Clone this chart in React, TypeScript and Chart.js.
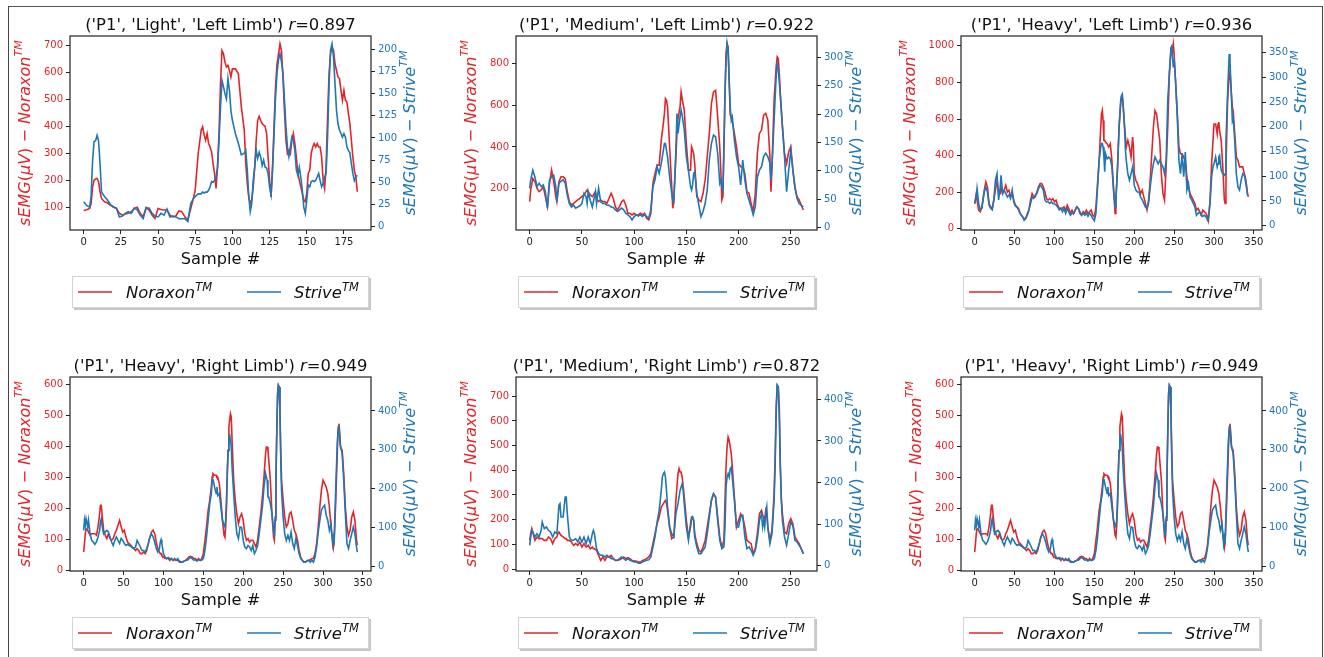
import React, { useEffect, useRef } from 'react';
import { Chart, registerables } from 'chart.js';

Chart.register(...registerables);

const RED = '#e0262b';
const BLUE = '#1f77b4';
const FONT = "'DejaVu Sans', 'Liberation Sans', sans-serif";

// ---------- Panel 1: ('P1', 'Light', 'Left Limb') ----------
const lightLeftSample = [0,2,4,5,6,7,8,9,10,11,12,14,16,18,20,22,24,26,28,30,32,34,36,38,40,42,44,46,48,50,52,54,56,58,60,62,64,66,68,70,72,74,75,77,79,80,81,82,83,84,85,86,87,88,89,90,91,92,93,94,95,96,97,98,99,100,102,104,106,108,109,110,111,112,113,114,115,116,117,118,119,120,121,122,123,124,125,126,127,128,129,130,131,132,133,134,135,136,137,138,139,140,141,142,143,144,145,146,147,148,149,150,151,152,153,154,155,156,157,158,159,160,161,162,163,164,165,166,167,168,169,170,171,172,173,174,175,176,177,178,179,180,181,182,183,184];
const lightLeftNoraxon = [87,90,95,113,175,200,204,206,194,157,132,120,116,107,101,95,77,70,74,77,83,95,99,77,64,99,89,70,58,95,91,89,89,70,64,67,86,83,64,52,95,138,163,299,385,398,367,348,373,336,323,305,262,225,169,249,373,558,681,669,638,620,626,607,583,613,613,595,472,385,262,188,138,114,126,175,249,348,422,437,422,410,404,400,373,286,200,138,249,398,546,632,669,706,681,583,459,348,299,311,299,348,373,336,286,225,200,175,151,126,120,151,225,237,299,323,336,323,336,323,323,286,200,169,249,435,595,669,694,681,632,607,583,577,533,496,533,496,490,447,410,348,286,237,212,157];
const lightLeftStrive = [28,24,22,34,75,96,97,103,97,71,39,34,30,25,22,21,11,12,15,17,15,21,19,13,9,21,21,15,12,11,15,13,20,11,12,11,9,9,9,6,26,32,34,37,37,39,38,39,39,41,45,51,50,52,56,67,97,135,165,158,150,144,167,154,131,120,105,94,81,83,86,64,34,17,26,52,67,86,77,84,79,69,75,67,66,60,45,36,64,105,146,173,188,195,186,173,143,113,90,79,90,101,97,86,64,58,67,56,41,22,15,30,47,45,51,52,51,52,56,60,52,45,49,56,60,101,161,199,206,191,161,131,116,109,105,101,105,101,90,86,83,71,60,52,56,58];
const lightLeftXTicks = [0,25,50,75,100,125,150,175];
const lightLeftNoraxonTicks = [100,200,300,400,500,600,700];
const lightLeftStriveTicks = [0,25,50,75,100,125,150,175,200];

// ---------- Panel 2: ('P1', 'Medium', 'Left Limb') ----------
const mediumLeftSample = [0,1,3,5,7,9,11,13,15,17,19,21,23,25,26,28,30,32,34,36,38,40,42,44,46,48,50,52,54,55,56,58,60,62,63,64,66,68,70,72,74,76,78,80,82,84,86,88,90,92,94,96,98,100,102,104,106,108,110,112,114,116,118,120,122,124,126,128,129,130,131,132,134,136,137,138,140,141,142,144,145,146,148,150,152,154,155,156,157,158,160,162,164,166,168,170,172,174,176,178,180,182,183,184,185,186,187,188,189,190,191,192,193,194,196,198,200,202,204,206,208,210,212,214,216,218,220,222,224,226,228,230,231,232,234,236,237,238,239,240,242,244,246,248,250,252,254,256,258,260,262];
const mediumLeftNoraxon = [138,194,249,234,202,186,194,210,162,114,226,289,234,162,138,234,257,257,249,186,138,122,130,138,146,154,162,170,186,194,186,170,162,178,186,154,138,146,138,138,130,154,178,154,114,98,114,138,146,122,82,82,74,82,74,74,82,74,82,58,50,82,226,273,313,313,433,513,561,632,624,592,401,210,106,146,353,465,537,592,664,632,577,417,289,289,401,385,369,321,162,146,138,178,241,353,465,608,664,672,545,401,289,146,162,385,656,848,896,880,720,553,545,521,465,401,321,305,305,273,186,178,130,90,178,369,465,481,553,561,529,353,186,305,624,784,832,824,752,656,497,369,321,377,401,289,202,162,146,122,98];
const mediumLeftStrive = [69,84,101,89,72,78,72,75,63,34,84,89,92,72,45,78,81,84,78,57,42,36,39,34,36,38,42,60,54,42,63,48,36,54,63,42,69,45,42,42,39,39,36,35,31,28,31,34,31,25,22,19,13,19,22,20,22,19,22,19,16,31,72,84,107,95,113,136,148,148,136,125,89,60,48,45,136,201,166,195,207,198,172,125,101,72,66,75,95,98,60,39,19,28,42,66,119,148,163,160,131,78,84,72,66,148,236,295,325,313,260,213,189,195,154,125,107,75,119,84,60,48,36,22,36,89,101,107,125,131,125,113,84,107,189,266,289,281,257,231,178,125,63,101,136,101,72,51,42,39,36];
const mediumLeftXTicks = [0,50,100,150,200,250];
const mediumLeftNoraxonTicks = [200,400,600,800];
const mediumLeftStriveTicks = [0,50,100,150,200,250,300];

// ---------- Panel 3: ('P1', 'Heavy', 'Left Limb') ----------
const heavyLeftSample = [0,2,3,5,7,9,12,14,16,18,20,22,24,26,28,30,32,33,35,37,39,41,43,45,47,49,51,53,55,57,60,62,64,66,68,70,72,74,76,78,80,82,84,86,88,90,92,94,96,98,100,102,104,106,108,110,112,114,116,118,120,122,124,126,128,130,132,134,136,138,140,142,144,146,148,150,152,154,156,158,159,160,161,162,163,164,166,168,170,172,174,176,177,179,181,183,184,185,186,188,189,190,192,194,196,198,199,200,202,204,206,208,210,212,214,216,218,220,222,224,226,228,230,232,234,236,238,240,242,244,246,247,248,249,250,252,254,256,258,260,262,264,266,268,270,272,274,276,278,280,282,284,286,288,290,292,293,295,297,299,300,302,304,305,306,307,309,311,313,314,315,317,319,320,321,323,324,326,328,330,332,334,336,338,340,342,343];
const heavyLeftNoraxon = [138,192,156,102,93,120,211,256,229,138,120,111,156,211,265,192,192,229,192,211,238,201,211,174,192,156,129,120,111,83,65,56,56,83,102,156,192,174,174,201,229,247,247,229,201,165,156,165,156,165,147,156,129,111,111,111,120,102,129,111,83,102,83,102,120,111,83,74,93,83,102,83,93,102,74,65,120,247,374,555,628,646,592,483,483,474,465,447,465,374,229,83,156,338,555,682,719,719,682,555,501,447,483,447,392,501,447,301,265,247,220,192,211,174,138,102,156,265,410,555,646,628,555,483,301,192,156,338,555,846,973,991,973,1009,955,791,628,447,410,410,392,374,283,229,192,174,156,138,102,111,93,74,102,93,83,65,47,156,356,501,573,573,519,573,583,537,483,338,156,138,338,700,846,864,791,664,646,519,392,374,338,338,338,301,265,192,174];
const heavyLeftStrive = [44,58,75,45,32,35,68,78,68,42,35,32,52,92,105,52,78,102,65,72,65,58,62,55,72,48,40,37,32,25,18,11,15,21,32,45,58,55,62,65,75,82,78,72,52,48,48,45,48,45,44,42,38,32,35,28,35,25,35,28,21,25,25,32,38,35,28,21,25,21,25,19,25,21,15,10,25,78,132,159,166,166,159,139,109,146,135,139,135,119,72,38,52,112,199,253,263,266,246,192,152,132,105,92,105,119,105,82,72,68,68,58,52,45,38,35,45,78,105,125,139,132,125,132,125,119,105,132,253,306,360,363,340,320,337,286,219,132,105,146,99,149,72,85,58,52,45,38,21,25,28,21,19,21,18,11,15,45,99,122,125,139,119,125,139,142,112,105,102,105,172,266,347,333,293,213,219,172,105,78,72,92,105,102,85,62,62];
const heavyLeftXTicks = [0,50,100,150,200,250,300,350];
const heavyLeftNoraxonTicks = [0,200,400,600,800,1000];
const heavyLeftStriveTicks = [0,50,100,150,200,250,300,350];

// ---------- Panels 4 and 6: ('P1', 'Heavy', 'Right Limb') ----------
const heavyRightSample = [0,1,2,3,5,6,8,10,12,14,16,18,20,21,22,23,25,27,29,31,33,35,37,39,41,43,45,47,49,51,53,55,57,59,61,63,65,67,69,71,73,75,77,79,81,83,85,87,89,91,93,95,96,97,98,100,102,104,106,108,110,112,114,116,118,120,122,124,126,128,130,132,134,136,138,140,142,144,146,148,150,152,154,156,158,160,161,162,164,166,167,168,170,172,174,176,177,178,179,180,181,182,183,184,185,186,188,190,192,194,196,198,200,202,204,206,208,210,212,214,216,218,220,222,224,226,228,229,230,231,232,234,236,238,239,240,241,242,243,244,245,246,247,248,250,252,254,256,258,260,262,264,266,268,270,272,274,276,278,280,282,284,286,288,290,292,294,296,298,300,302,304,306,308,310,312,313,314,316,318,319,320,321,322,324,326,328,330,332,334,336,338,340,342,343];
const heavyRightNoraxon = [60,87,119,135,130,124,114,119,119,119,114,141,183,210,210,183,130,114,103,119,103,98,103,119,130,146,162,141,124,130,108,92,87,82,76,71,65,71,65,55,55,60,55,65,87,108,124,130,119,92,71,60,55,55,49,44,39,39,39,33,39,33,39,33,33,31,28,28,31,33,39,44,46,44,39,39,33,39,33,39,55,98,141,194,226,269,301,312,307,307,301,301,280,226,162,114,108,141,205,312,387,462,484,505,495,420,291,226,183,151,173,183,162,119,98,103,92,98,98,87,76,98,141,183,237,301,377,398,398,387,355,291,183,108,98,162,291,441,559,597,591,516,387,291,226,173,141,151,183,189,162,130,119,98,65,44,33,28,28,33,33,35,39,39,55,87,141,205,259,291,280,269,248,205,141,98,76,98,226,387,462,473,441,398,387,312,205,141,114,130,173,189,162,98,82];
const heavyRightStrive = [92,118,105,122,101,118,83,66,62,56,62,75,92,114,122,105,83,88,92,88,75,62,53,66,75,66,58,71,66,58,53,56,53,51,47,45,49,66,58,49,40,40,36,45,58,75,83,75,62,45,36,45,62,68,58,32,23,19,22,19,19,15,16,15,19,10,10,10,13,15,15,19,22,19,15,16,13,16,15,15,19,40,75,118,161,187,221,225,204,187,204,182,187,152,118,105,101,118,169,238,298,333,337,324,307,255,187,126,83,71,101,99,66,49,45,53,49,40,53,32,40,53,83,118,152,204,238,229,221,178,178,161,135,92,75,126,229,342,445,466,462,393,281,195,126,83,66,79,66,88,58,45,71,53,32,19,15,10,10,13,15,10,15,10,23,49,88,118,144,152,157,131,118,92,109,58,75,66,204,324,350,363,324,307,290,221,135,58,45,66,83,101,83,49,36];
const heavyRightXTicks = [0,50,100,150,200,250,300,350];
const heavyRightNoraxonTicks = [0,100,200,300,400,500,600];
const heavyRightStriveTicks = [0,100,200,300,400];

// ---------- Panel 5: ('P1', 'Medium', 'Right Limb') ----------
const mediumRightSample = [0,1,2,3,5,7,9,11,12,14,16,18,20,22,24,26,27,28,29,30,32,34,35,36,38,40,42,44,46,48,50,52,54,56,58,60,61,62,64,66,68,70,72,74,76,78,80,82,84,86,88,90,92,94,96,98,100,102,104,106,108,110,112,114,116,118,120,122,124,126,127,128,129,130,131,132,134,136,138,140,142,143,144,145,146,147,148,150,152,154,155,156,157,158,160,162,164,166,168,170,172,174,176,178,180,182,184,186,187,188,189,190,191,192,193,194,196,198,200,202,204,206,208,210,212,214,216,218,220,222,223,224,225,226,227,228,230,232,234,235,236,237,238,239,240,241,242,244,246,248,250,252,254,256,258,260,262];
const mediumRightNoraxon = [116,143,164,150,116,130,123,123,123,116,116,130,123,103,123,130,143,150,143,136,130,123,123,116,116,109,96,103,96,109,89,103,89,96,82,89,82,82,76,55,35,49,35,49,49,55,42,35,35,38,42,49,42,46,42,35,32,32,28,28,35,38,42,49,62,103,143,184,211,251,258,265,272,278,265,238,170,123,130,278,386,407,393,393,373,332,292,197,130,170,204,211,197,143,103,76,69,89,116,170,224,278,305,292,211,130,89,116,278,414,495,535,522,495,468,414,292,170,197,224,211,170,116,109,103,62,82,143,224,238,218,211,197,238,224,170,116,157,305,454,657,745,738,657,414,278,224,150,143,184,204,184,130,116,103,82,62];
const mediumRightStrive = [49,69,85,81,69,77,69,85,105,89,93,85,81,69,81,77,109,145,149,117,117,165,165,125,69,61,61,65,57,69,57,69,53,69,53,77,85,77,41,29,25,25,21,25,21,17,17,13,13,17,21,17,13,17,13,11,9,9,6,6,9,11,13,14,21,45,69,105,133,181,213,221,225,213,181,141,93,77,69,125,149,165,181,189,197,181,149,93,61,101,117,117,109,69,45,29,29,37,45,77,117,157,173,165,109,61,41,45,93,189,213,221,213,233,237,213,157,93,93,117,121,69,41,45,37,25,37,65,109,125,93,109,93,125,141,93,53,77,157,237,366,434,430,358,237,157,109,69,49,77,105,97,61,57,49,41,29];
const mediumRightXTicks = [0,50,100,150,200,250];
const mediumRightNoraxonTicks = [0,100,200,300,400,500,600,700];
const mediumRightStriveTicks = [0,100,200,300,400];

const panelTitles = [
  "('P1', 'Light', 'Left Limb')",
  "('P1', 'Medium', 'Left Limb')",
  "('P1', 'Heavy', 'Left Limb')",
  "('P1', 'Heavy', 'Right Limb')",
  "('P1', 'Medium', 'Right Limb')",
  "('P1', 'Heavy', 'Right Limb')",
];
const panelR = ['0.897', '0.922', '0.936', '0.949', '0.872', '0.949'];
const legendLabels = ['Noraxon', 'Strive'];

type Panel = {
  title: string; r: string;
  sample: number[]; nor: number[]; str: number[];
  xTicks: number[]; lTicks: number[]; rTicks: number[];
  x: [number, number]; l: [number, number]; rr: [number, number];
  col: number; row: number;
};

const panels: Panel[] = [
  { title: panelTitles[0], r: panelR[0], sample: lightLeftSample, nor: lightLeftNoraxon, str: lightLeftStrive,
    xTicks: lightLeftXTicks, lTicks: lightLeftNoraxonTicks, rTicks: lightLeftStriveTicks,
    x: [-9.2, 193.2], l: [15, 735], rr: [-3.75, 215], col: 0, row: 0 },
  { title: panelTitles[1], r: panelR[1], sample: mediumLeftSample, nor: mediumLeftNoraxon, str: mediumLeftStrive,
    xTicks: mediumLeftXTicks, lTicks: mediumLeftNoraxonTicks, rTicks: mediumLeftStriveTicks,
    x: [-13.1, 275.1], l: [2, 932], rr: [-4.7, 338], col: 1, row: 0 },
  { title: panelTitles[2], r: panelR[2], sample: heavyLeftSample, nor: heavyLeftNoraxon, str: heavyLeftStrive,
    xTicks: heavyLeftXTicks, lTicks: heavyLeftNoraxonTicks, rTicks: heavyLeftStriveTicks,
    x: [-17.15, 360.15], l: [-7, 1054], rr: [-8.7, 383.5], col: 2, row: 0 },
  { title: panelTitles[3], r: panelR[3], sample: heavyRightSample, nor: heavyRightNoraxon, str: heavyRightStrive,
    xTicks: heavyRightXTicks, lTicks: heavyRightNoraxonTicks, rTicks: heavyRightStriveTicks,
    x: [-17.15, 360.15], l: [-1, 623], rr: [-12.9, 487.7], col: 0, row: 1 },
  { title: panelTitles[4], r: panelR[4], sample: mediumRightSample, nor: mediumRightNoraxon, str: mediumRightStrive,
    xTicks: mediumRightXTicks, lTicks: mediumRightNoraxonTicks, rTicks: mediumRightStriveTicks,
    x: [-13.1, 275.1], l: [-8, 778], rr: [-12.8, 453.7], col: 1, row: 1 },
  { title: panelTitles[5], r: panelR[5], sample: heavyRightSample, nor: heavyRightNoraxon, str: heavyRightStrive,
    xTicks: heavyRightXTicks, lTicks: heavyRightNoraxonTicks, rTicks: heavyRightStriveTicks,
    x: [-17.15, 360.15], l: [-1, 623], rr: [-12.9, 487.7], col: 2, row: 1 },
];

const PLOT_LEFT = [70, 516, 961];
const PLOT_TOP = [36, 377];
const CANVAS_W = 440;
const CANVAS_H = 316;
const OFF_X = 66;
const OFF_Y = 34;
const PLOT_W = 301;
const PLOT_H = 194;
const TICK_SIZE = 10;

type Part = { t: string; it?: boolean; sup?: boolean };

function partFont(size: number, p: Part) {
  const s = p.sup ? size * 0.7 : size;
  return `${p.it ? 'italic ' : ''}${s}px ${FONT}`;
}
function partsWidth(ctx: CanvasRenderingContext2D, parts: Part[], size: number) {
  let w = 0;
  for (const p of parts) { ctx.font = partFont(size, p); w += ctx.measureText(p.t).width; }
  return w;
}
function drawParts(ctx: CanvasRenderingContext2D, parts: Part[], size: number, x: number, y: number, align: 'center' | 'left', color: string) {
  const w = partsWidth(ctx, parts, size);
  let cx = align === 'center' ? x - w / 2 : x;
  ctx.fillStyle = color;
  ctx.textAlign = 'left';
  for (const p of parts) {
    ctx.font = partFont(size, p);
    ctx.fillText(p.t, cx, p.sup ? y - size * 0.42 : y);
    cx += ctx.measureText(p.t).width;
  }
}
function axisLabel(name: string): Part[] {
  return [
    { t: 'sEMG', it: true }, { t: '(' }, { t: 'μV', it: true }, { t: ')' },
    { t: ' − ' }, { t: name, it: true }, { t: 'TM', it: true, sup: true },
  ];
}

function makeDecor(p: Panel) {
  return {
    id: 'decor',
    afterDraw(chart: any) {
      const ctx: CanvasRenderingContext2D = chart.ctx;
      const a = chart.chartArea;
      const cxm = (a.left + a.right) / 2;
      const cym = (a.top + a.bottom) / 2;
      ctx.save();
      ctx.strokeStyle = '#222';
      ctx.lineWidth = 1.2;
      ctx.strokeRect(a.left, a.top, a.right - a.left, a.bottom - a.top);

      ctx.textBaseline = 'alphabetic';
      drawParts(ctx, [{ t: p.title + ' ' }, { t: 'r', it: true }, { t: '=' + p.r }], 16.4, cxm, a.top - 6.5, 'center', '#111');
      drawParts(ctx, [{ t: 'Sample #' }], 16.2, cxm, a.bottom + 34, 'center', '#111');

      ctx.font = `${TICK_SIZE}px ${FONT}`;
      const lw = Math.max(...p.lTicks.map(v => ctx.measureText(String(v)).width));
      const rw = Math.max(...p.rTicks.map(v => ctx.measureText(String(v)).width));

      ctx.save();
      ctx.translate(a.left - lw - 25, cym);
      ctx.rotate(-Math.PI / 2);
      ctx.textBaseline = 'middle';
      drawParts(ctx, axisLabel(legendLabels[0]), 16, 0, 0, 'center', RED);
      ctx.restore();

      ctx.save();
      ctx.translate(a.right + rw + 21, cym);
      ctx.rotate(-Math.PI / 2);
      ctx.textBaseline = 'middle';
      drawParts(ctx, axisLabel(legendLabels[1]), 16, 0, 0, 'center', BLUE);
      ctx.restore();

      // legend
      const lx = a.left + 2, ly = a.bottom + 46, lwBox = 297, lh = 32;
      ctx.fillStyle = 'rgba(0,0,0,0.22)';
      ctx.fillRect(lx + 2, ly + 2, lwBox, lh);
      ctx.fillStyle = '#fff';
      ctx.fillRect(lx, ly, lwBox, lh);
      ctx.strokeStyle = '#d4d4d4';
      ctx.lineWidth = 1;
      ctx.strokeRect(lx + 0.5, ly + 0.5, lwBox - 1, lh - 1);
      const my = ly + lh / 2;
      ctx.lineWidth = 1.6;
      ctx.strokeStyle = RED;
      ctx.beginPath(); ctx.moveTo(lx + 6, my); ctx.lineTo(lx + 40, my); ctx.stroke();
      ctx.strokeStyle = BLUE;
      ctx.beginPath(); ctx.moveTo(lx + 175, my); ctx.lineTo(lx + 209, my); ctx.stroke();
      ctx.textBaseline = 'alphabetic';
      drawParts(ctx, [{ t: legendLabels[0], it: true }, { t: 'TM', it: true, sup: true }], 16.4, lx + 54, my + 6, 'left', '#111');
      drawParts(ctx, [{ t: legendLabels[1], it: true }, { t: 'TM', it: true, sup: true }], 16.4, lx + 222, my + 6, 'left', '#111');
      ctx.restore();
    },
  };
}

function tickOpts(color: string, padding: number) {
  return { color, padding, font: { family: FONT, size: TICK_SIZE }, autoSkip: false, maxRotation: 0, callback: (v: any) => String(v) };
}
const gridOpts = { display: true, drawOnChartArea: false, drawTicks: true, tickLength: 4, color: '#222', lineWidth: 1 };

function PanelChart({ p }: { p: Panel }) {
  const ref = useRef<HTMLCanvasElement>(null);
  useEffect(() => {
    if (!ref.current) return;
    const chart = new Chart(ref.current, {
      type: 'line',
      data: {
        datasets: [
          { label: legendLabels[0], data: p.sample.map((s, i) => ({ x: s, y: p.nor[i] })), yAxisID: 'yL',
            borderColor: RED, backgroundColor: RED, borderWidth: 1.6, pointRadius: 0, tension: 0, order: 1 },
          { label: legendLabels[1], data: p.sample.map((s, i) => ({ x: s, y: p.str[i] })), yAxisID: 'yR',
            borderColor: BLUE, backgroundColor: BLUE, borderWidth: 1.6, pointRadius: 0, tension: 0, order: 0 },
        ],
      } as any,
      options: {
        responsive: false,
        animation: false,
        devicePixelRatio: 1,
        layout: { padding: { left: OFF_X - 40, right: CANVAS_W - OFF_X - PLOT_W - 40, top: OFF_Y, bottom: CANVAS_H - OFF_Y - PLOT_H - 30 } },
        plugins: { legend: { display: false }, title: { display: false }, tooltip: { enabled: false } },
        scales: {
          x: {
            type: 'linear', min: p.x[0], max: p.x[1],
            afterBuildTicks: (s: any) => { s.ticks = p.xTicks.map(v => ({ value: v })); },
            afterFit: (s: any) => { s.height = 30; },
            grid: gridOpts, border: { display: false },
            ticks: tickOpts('#222', 2),
          },
          yL: {
            type: 'linear', position: 'left', min: p.l[0], max: p.l[1],
            afterBuildTicks: (s: any) => { s.ticks = p.lTicks.map(v => ({ value: v })); },
            afterFit: (s: any) => { s.width = 40; },
            grid: gridOpts, border: { display: false },
            ticks: tickOpts(RED, 3),
          },
          yR: {
            type: 'linear', position: 'right', min: p.rr[0], max: p.rr[1],
            afterBuildTicks: (s: any) => { s.ticks = p.rTicks.map(v => ({ value: v })); },
            afterFit: (s: any) => { s.width = 40; },
            grid: gridOpts, border: { display: false },
            ticks: tickOpts(BLUE, 3),
          },
        },
      } as any,
      plugins: [makeDecor(p)],
    });
    return () => chart.destroy();
  }, [p]);
  const left = PLOT_LEFT[p.col] - OFF_X;
  const top = PLOT_TOP[p.row] - OFF_Y;
  return (
    <canvas ref={ref} width={CANVAS_W} height={CANVAS_H}
      style={{ position: 'absolute', left, top, width: CANVAS_W, height: CANVAS_H }} />
  );
}

export default function App() {
  return (
    <div style={{ position: 'absolute', left: 0, top: 0, width: 1324, height: 657, overflow: 'hidden', background: '#fff' }}>
      {panels.map((p, i) => <PanelChart key={i} p={p} />)}
      <div style={{ position: 'absolute', left: 8, top: 6, width: 1313, height: 700, borderTop: '1px solid #555', borderLeft: '1px solid #444', borderRight: '1px solid #444', pointerEvents: 'none' }} />
    </div>
  );
}
